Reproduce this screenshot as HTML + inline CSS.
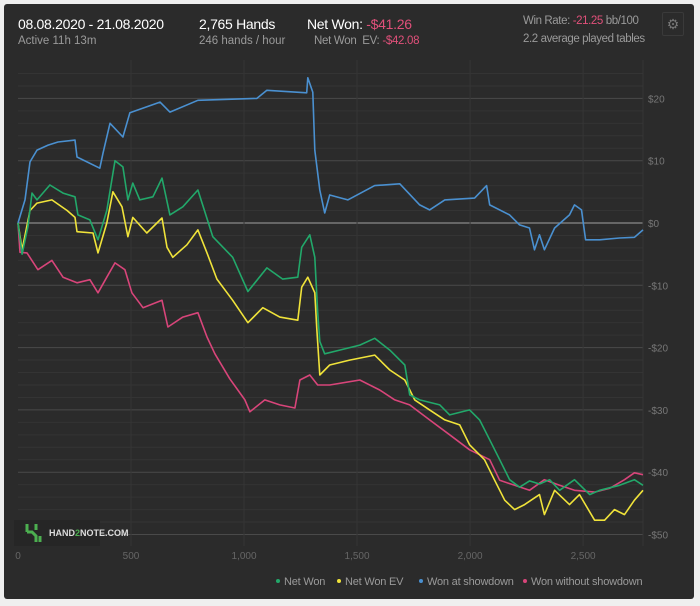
<!DOCTYPE html>
<html><head><meta charset="utf-8"><style>
body{margin:0;width:700px;height:606px;background:#efefef;font-family:"Liberation Sans",sans-serif;overflow:hidden}
#panel{position:absolute;left:4px;top:4px;width:690px;height:595px;background:#2b2b2b;border-radius:3px}
.t{position:absolute;white-space:nowrap}
.w{color:#fff;font-size:14px}
.g{color:#9a9a9a;font-size:11.5px}
.r{color:#e0507a}
svg{position:absolute;left:0;top:0}
</style></head><body>
<div id="panel"></div>
<div class="t w" style="left:18px;top:16px;letter-spacing:-0.3px">08.08.2020 - 21.08.2020</div>
<div class="t g" style="left:18px;top:35px">Active 11h 13m</div>
<div class="t w" style="left:199px;top:16px;letter-spacing:-0.3px">2,765 Hands</div>
<div class="t g" style="left:199px;top:35px">246 hands / hour</div>
<div class="t w" style="left:307px;top:16px;letter-spacing:-0.3px">Net Won: <span class="r">-$41.26</span></div>
<div class="t g" style="left:314px;top:35px;letter-spacing:-0.3px">Net Won&nbsp; EV: <span class="r">-$42.08</span></div>
<div class="t g" style="left:523px;top:15px;letter-spacing:-0.4px">Win Rate: <span class="r">-21.25</span> bb/100</div>
<div class="t g" style="left:523px;top:33px;letter-spacing:-0.4px">2.2 average played tables</div>
<div class="t" style="left:662px;top:12px;width:20px;height:22px;border:1px solid #3a3a3a;border-radius:2px;color:#777;font-size:14px;text-align:center;line-height:22px">⚙</div>
<svg id="chart" width="700" height="606"></svg>
<div class="t" style="left:14px;top:520px;width:86px;height:26px;background:#262626">
<svg width="20" height="22" style="left:10px;top:2px"><path d="M3 2v8M3 10h5l4 4v6M12 2v6M16 14v6" stroke="#4caf50" stroke-width="3" fill="none"/></svg>
<span style="position:absolute;left:35px;top:8px;color:#ddd;font-size:9px;font-weight:bold">HAND<span style="color:#4caf50">2</span>NOTE.COM</span></div>
<script>
const xTicks=[0,500,1000,1500,2000,2500];
const xTickLabels=["0","500","1,000","1,500","2,000","2,500"];
const yTicks=[20,10,0,-10,-20,-30,-40,-50];
const yTickLabels=["$20","$10","$0","-$10","-$20","-$30","-$40","-$50"];
const blueH=[0,31,53,84,133,177,252,261,362,376,407,464,495,628,672,796,1057,1101,1277,1282,1304,1313,1335,1357,1379,1459,1578,1689,1777,1821,1888,2020,2073,2087,2175,2219,2263,2285,2307,2329,2374,2440,2462,2493,2511,2573,2661,2727,2765];
const blueV=[0,3.7,9.8,11.7,12.5,13,13.3,10.6,8.8,11.2,16,13.8,17.7,19.4,17.8,19.7,20,21.3,20.9,23.3,21,11.7,5.3,1.6,4.5,3.7,6,6.3,2.9,2.1,3.7,4,6,2.9,1.3,-0.3,-0.8,-4.3,-1.9,-4.3,-0.8,1.3,2.9,2.1,-2.7,-2.7,-2.4,-2.3,-1.1];
const greenH=[0,18,44,62,84,141,199,252,265,318,354,393,429,464,486,508,539,597,637,672,729,796,862,950,1017,1101,1171,1238,1255,1291,1313,1326,1335,1357,1423,1512,1578,1645,1711,1733,1777,1866,1910,1998,2042,2087,2131,2175,2219,2263,2307,2352,2396,2462,2529,2573,2661,2727,2765];
const greenV=[0,-5,-0.6,4.8,3.7,6.1,4.8,4.2,1.3,0.5,-2.7,2,10,9,3.7,6.4,3.7,4.2,7.2,1.3,2.6,5.3,-2.2,-5.5,-11,-7.2,-9,-8.7,-3.9,-1.9,-5.5,-14.4,-19,-21,-20.4,-19.6,-18.5,-20.4,-22.8,-27.6,-28.4,-29.2,-30.8,-30,-31.6,-34.8,-38,-41.2,-42.4,-41.4,-41.9,-41.2,-42.9,-41.2,-43.6,-42.9,-42.1,-41.2,-42.1];
const yellowH=[0,18,53,84,150,217,252,261,332,354,393,420,460,486,508,570,637,659,685,747,796,836,880,950,1017,1083,1158,1238,1255,1282,1313,1322,1335,1379,1467,1578,1645,1711,1755,1821,1888,1954,1998,2064,2109,2153,2197,2241,2307,2329,2374,2440,2484,2551,2595,2639,2683,2727,2765];
const yellowV=[0,-4.3,2,3.2,3.7,2,0.9,-1.4,-1.6,-4.8,0,5,2.6,-2.2,0.9,-1.6,0.8,-3.9,-5.5,-3.5,-1.1,-4.8,-9,-12.4,-16,-13.6,-15.1,-15.6,-10.3,-8.7,-11.2,-17,-24.4,-22.8,-22,-21.2,-23.6,-25.2,-28.4,-30,-31.6,-32.4,-35.6,-38,-41.3,-44.5,-46,-45.2,-43.6,-46.8,-42.9,-45.2,-43.6,-47.7,-47.7,-46,-46.8,-44.5,-42.9];
const pinkH=[0,9,40,88,150,199,261,318,354,393,429,473,504,553,637,663,729,796,836,871,937,1004,1026,1092,1158,1225,1247,1291,1326,1379,1512,1600,1667,1733,1821,1910,1998,2087,2131,2197,2263,2329,2396,2462,2551,2617,2683,2727,2765];
const pinkV=[0,-4.7,-4.8,-7.5,-6,-8.7,-9.6,-9.1,-11.2,-8.7,-6.4,-7.5,-11.2,-13.6,-12.4,-16.7,-15.1,-14.4,-18.3,-21,-25,-28.4,-30.3,-28.4,-29.2,-29.7,-25.2,-24.4,-26,-26,-25.2,-26.8,-28.4,-29.2,-31.6,-34,-36.4,-38,-41.3,-42.1,-42.9,-41.2,-42.1,-42.9,-43.2,-42.6,-41.2,-40.1,-40.4];
const seriesNames=["Net Won","Net Won  EV","Won at showdown","Won without showdown"];
const L=18,R=643,T=60,B=546;
const X=h=>L+h*(R-L)/2765;
const Y=v=>223-v*6.23;
const NS="http://www.w3.org/2000/svg";
const svg=document.getElementById('chart');
function mk(t,a){const e=document.createElementNS(NS,t);for(const k in a)e.setAttribute(k,a[k]);svg.appendChild(e);return e;}
for(let v=-50;v<=24;v+=2){const major=v%10===0;
 const l=mk('line',{x1:L,x2:R,y1:Y(v),y2:Y(v),stroke:v===0?'#8a8a8a':(major?'#4a4a4a':'#343434'),'stroke-width':v===0?1.2:1});
 
 }
xTicks.forEach((h,i)=>{
 if(h>0){const l=mk('line',{x1:X(h),x2:X(h),y1:T,y2:B,stroke:'#363636'});
 
 }
 const t=mk('text',{x:X(h),y:559,fill:'#666','font-size':10,'text-anchor':'middle','font-family':'Liberation Sans'});
 t.textContent=xTickLabels[i];
 
 });
const rb=mk('line',{x1:R,x2:R,y1:T,y2:B,stroke:'#363636'});


yTicks.forEach((v,i)=>{const t=mk('text',{x:648,y:Y(v)+4,fill:'#777','font-size':10,'font-family':'Liberation Sans'});
 t.textContent=yTickLabels[i];
 
 });
function line(H,V,c,n){const pts=H.map((h,i)=>X(h).toFixed(1)+','+Y(V[i]).toFixed(1)).join(' ');
 const p=mk('polyline',{points:pts,stroke:c,'stroke-width':1.6,fill:'none','stroke-linejoin':'round'});
 
 }
line(pinkH,pinkV,'#d8457a','won-without-showdown-line');
line(blueH,blueV,'#4a90d0','won-at-showdown-line');
line(yellowH,yellowV,'#f0e33a','net-won-ev-line');
line(greenH,greenV,'#22a86a','net-won-line');
const colors=['#22a86a','#f0e33a','#4a90d0','#d8457a'];
const lx=[278,339,421,525];
seriesNames.forEach((n,i)=>{const c=mk('circle',{cx:lx[i],cy:581,r:2,fill:colors[i]});
 
 
 const t=mk('text',{x:lx[i]+6,y:585,fill:'#9a9a9a','font-size':11,'font-family':'Liberation Sans','xml:space':'preserve','letter-spacing':'-0.2'});
 t.textContent=n;
 
 });
</script>
</body></html>
